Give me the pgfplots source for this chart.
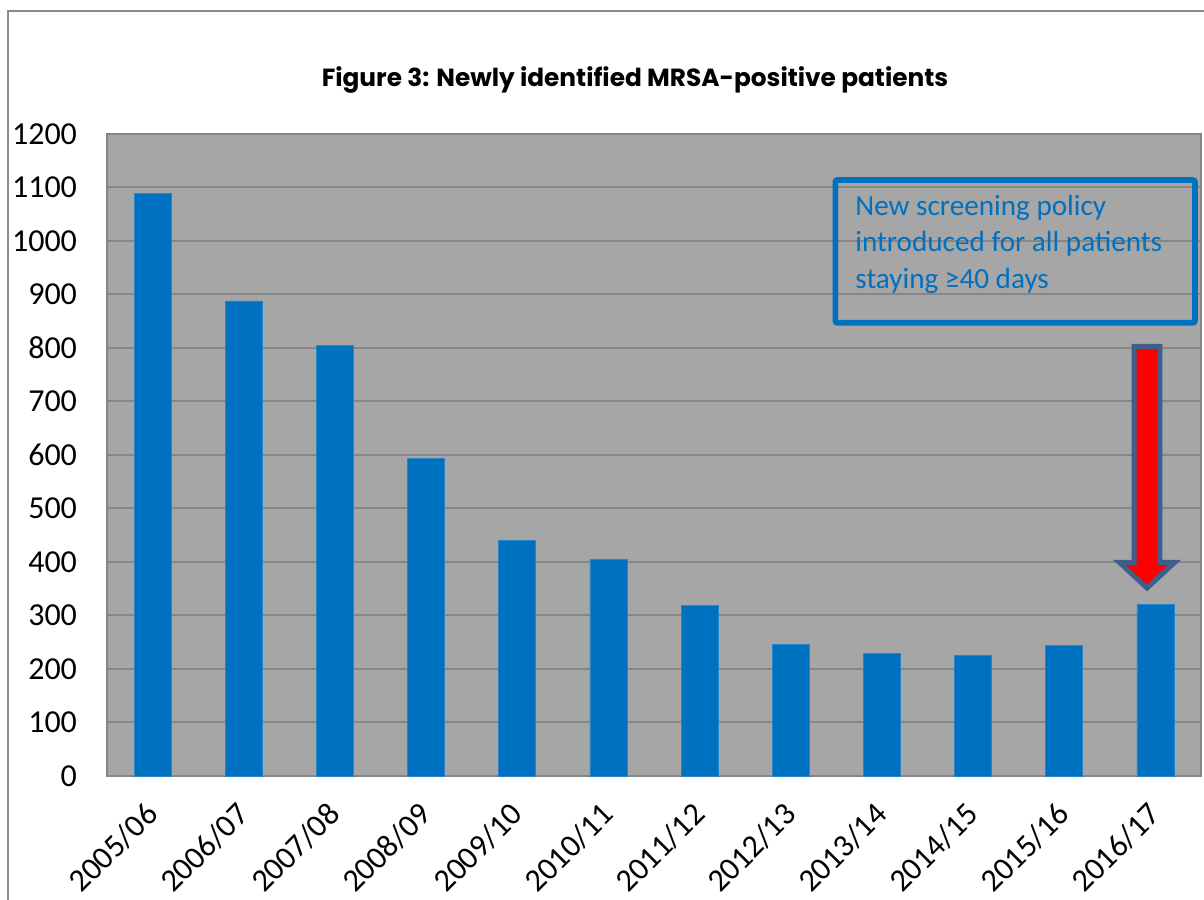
\documentclass[border=0pt]{standalone}
\usepackage{pgfplots}
\pgfplotsset{compat=1.18}
\usepackage{fontspec}
\setmainfont{Carlito}
\newfontfamily\titlefont{Poppins}
\definecolor{barblue}{HTML}{0070C0}
\definecolor{plotbg}{HTML}{A6A6A6}
\definecolor{gridgray}{HTML}{868686}
\definecolor{framegray}{HTML}{8C8C8C}
\definecolor{arrowedge}{HTML}{3F5F8A}
\definecolor{arrowred}{HTML}{FF0000}

\pgfplotstableread{
idx value
0 1089
1 888
2 804
3 594
4 441
5 405
6 319
7 246
8 229
9 226
10 244
11 320
}\mrsadata

\begin{document}
\begin{tikzpicture}
\useasboundingbox (0,0) rectangle (602pt,449.5pt);
\clip (0,0) rectangle (602pt,449.5pt);

\begin{axis}[
  at={(53.5pt,61.5pt)}, anchor=south west,
  scale only axis, width=547pt, height=321pt,
  xmin=-0.5, xmax=11.5, ymin=0, ymax=1200,
  ytick={0,100,...,1200},
  xtick={0,...,11},
  xticklabels={2005/06,2006/07,2007/08,2008/09,2009/10,2010/11,2011/12,2012/13,2013/14,2014/15,2015/16,2016/17},
  ybar=0pt, bar width=18.5pt,
  axis background/.style={fill=plotbg},
  ymajorgrids, grid style={gridgray, line width=1pt},
  axis line style={gridgray, line width=1pt},
  major tick length=0pt,
  tick label style={font=\fontsize{16}{18}\selectfont, text=black},
  /pgf/number format/assume math mode=true,
  /pgf/number format/1000 sep={},
  yticklabel style={anchor=east, xshift=-11.5pt},
  xticklabel style={rotate=45, anchor=north east, xshift=-8.3pt, yshift=-2.1pt},
  clip=false,
]
\addplot[fill=barblue, draw=barblue!85!white, line width=0.4pt] table[x=idx, y=value] {\mrsadata};
\end{axis}

% annotations, in a top-left based frame
\begin{scope}[x=0.5pt, y=-0.5pt, shift={(0,449.5pt)}]
  % outer chart frame
  \draw[framegray, line width=0.8pt] (8,11) rectangle (1220,920);
  % title
  \node[anchor=base, font=\titlefont\bfseries\fontsize{12.4}{15}\selectfont] at (635,87)
    {Figure 3: Newly identified MRSA-positive patients};
  % note box
  \draw[barblue, line width=2.8pt, rounded corners=1pt] (835.3,180) rectangle (1195,322.8);
  \begin{scope}[every node/.style={anchor=base west, text=barblue, inner sep=0pt,
                font=\fontsize{14.6}{17}\selectfont}]
    \node at (855,215.7) {New screening policy};
    \node at (855,252) {introduced for all patients};
    \node at (855,288.2) {staying ≥40 days};
  \end{scope}
  % downward arrow
  \draw[arrowedge, line width=2.5pt, fill=arrowred, line join=miter]
    (1134.1,346.3) -- (1159.9,346.3) -- (1159.9,562.5) -- (1174.5,562.5)
    -- (1147,588) -- (1119.5,562.5) -- (1134.1,562.5) -- cycle;
\end{scope}
\end{tikzpicture}
\end{document}
